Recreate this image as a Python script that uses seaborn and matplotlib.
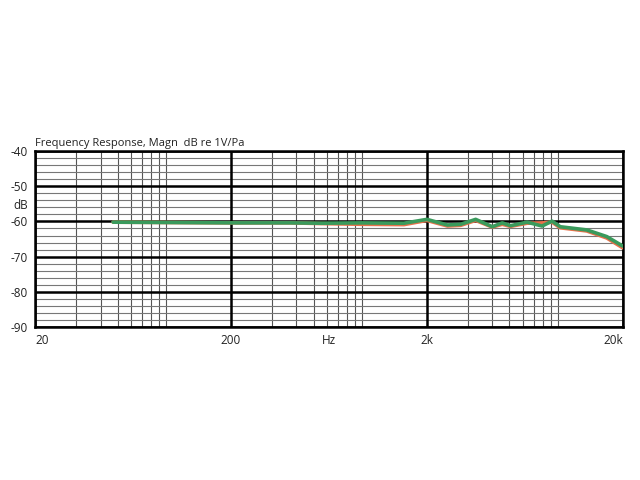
import numpy as np
import pandas as pd
import matplotlib
matplotlib.use("Agg")
import matplotlib.pyplot as plt
import seaborn as sns

# frequency response
freq = [50, 100, 200, 400, 578, 923, 1527, 2000, 2548, 2977, 3549, 4317, 4850,
        5346, 6502, 7750, 8712, 9600, 13100, 16580, 20000]
green_db = [-60.2, -60.3, -60.4, -60.4, -60.5, -60.4, -60.5, -59.4, -61.0, -60.8,
            -59.4, -61.5, -60.4, -61.2, -60.2, -61.3, -59.9, -61.5, -62.4, -64.3, -67.0]
orange_db = [-60.2, -60.3, -60.4, -60.4, -60.6, -60.8, -60.9, -59.7, -61.3, -61.1,
             -59.7, -61.6, -60.8, -61.4, -60.5, -60.4, -60.2, -61.8, -62.7, -64.7, -67.5]

x_major = [20, 200, 2000, 20000]
x_labels = ["20", "200", "2k", "20k"]
y_major = [-40, -50, -60, -70, -80, -90]
title = "Frequency Response, Magn  dB re 1V/Pa"

green = (58/255, 154/255, 92/255)
orange = (232/255, 112/255, 74/255)

sns.set_style("white")
plt.rcParams['font.family'] = ['Open Sans', 'DejaVu Sans']

fig = plt.figure(figsize=(6.4, 4.8), dpi=100)
ax = fig.add_axes([0.055, 0.319, 0.918, 0.366])

df = pd.DataFrame({"freq": freq + freq,
                   "db": orange_db + green_db,
                   "ch": ["a"] * len(freq) + ["b"] * len(freq)})
sns.lineplot(data=df, x="freq", y="db", hue="ch", palette=[orange, green],
             ax=ax, legend=False, linewidth=2.6, zorder=5)

ax.set_xscale("log")
ax.set_xlim(20, 20000)
ax.set_ylim(-90, -40)

# odd minor grid of the original sheet (compressed log spacing)
for dec in [20, 200, 2000]:
    for k in range(2, 10):
        ax.axvline(dec * k ** 0.70, color="#555555", lw=0.8, zorder=1)
for v in np.arange(-90, -40, 2):
    if v % 10:
        ax.axhline(v, color="#777777", lw=0.8, zorder=1)
for v in x_major:
    ax.axvline(v, color="black", lw=1.8, zorder=2)
for v in y_major:
    ax.axhline(v, color="black", lw=1.8, zorder=2)

ax.set_xticks(x_major + [632])
ax.set_xticklabels(x_labels + ["Hz"])
ax.xaxis.set_minor_locator(matplotlib.ticker.NullLocator())
ax.set_yticks(y_major + [-55])
ax.set_yticklabels([str(v) for v in y_major] + ["dB"])
ax.tick_params(length=0, labelsize=8.5, colors="#222222", pad=5)
xt = ax.get_xticklabels()
xt[0].set_ha("left")
xt[3].set_ha("right")
ax.set_xlabel("")
ax.set_ylabel("")
for s in ax.spines.values():
    s.set_color("black")
    s.set_linewidth(1.8)

ax.text(0.0, 1.015, title, transform=ax.transAxes, fontsize=8,
        color="#222222", ha="left", va="bottom")

fig.savefig("out.png", dpi=100)
